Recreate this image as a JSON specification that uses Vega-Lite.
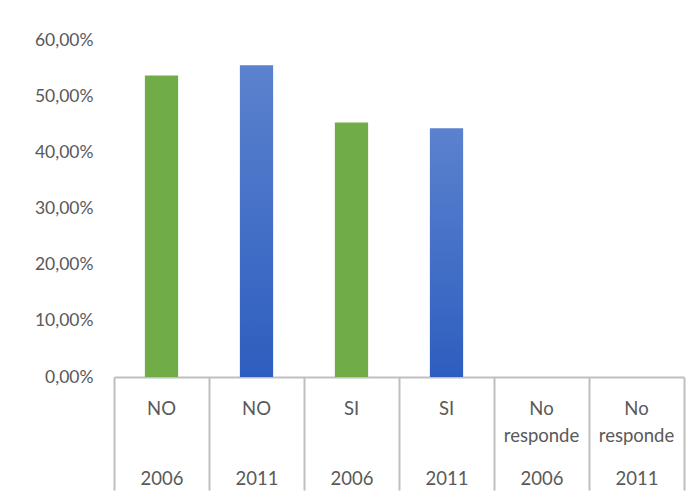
{
  "$schema": "https://vega.github.io/schema/vega-lite/v6.json",
  "width": 570,
  "height": 337,
  "autosize": {"type": "none"},
  "padding": {"left": 114, "top": 40, "right": 15, "bottom": 118},
  "background": "#ffffff",
  "config": {
    "view": {"stroke": null},
    "font": "Lato",
    "locale": {"number": {"decimal": ",", "thousands": ".", "grouping": [3], "currency": ["", " €"]}}
  },
  "data": {
    "values": [
      {"clave": "NO|2006", "respuesta": "NO", "anio": "2006", "valor": 0.537},
      {"clave": "NO|2011", "respuesta": "NO", "anio": "2011", "valor": 0.555},
      {"clave": "SI|2006", "respuesta": "SI", "anio": "2006", "valor": 0.453},
      {"clave": "SI|2011", "respuesta": "SI", "anio": "2011", "valor": 0.443},
      {"clave": "No responde|2006", "respuesta": "No responde", "anio": "2006", "valor": 0},
      {"clave": "No responde|2011", "respuesta": "No responde", "anio": "2011", "valor": 0}
    ]
  },
  "resolve": {"axis": {"x": "independent"}},
  "layer": [
    {
      "mark": {"type": "bar", "width": {"band": 0.35}},
      "encoding": {
        "x": {
          "field": "clave",
          "type": "nominal",
          "sort": null,
          "scale": {"paddingInner": 0, "paddingOuter": 0},
          "axis": {
            "orient": "bottom",
            "title": null,
            "labelAngle": 0,
            "labelExpr": "split(split(datum.value, '|')[0], ' ')",
            "labelFont": "Lato",
            "labelFontSize": 18.5,
            "labelColor": "#595959",
            "labelBaseline": "top",
            "labelLineHeight": 27,
            "labelPadding": 22,
            "ticks": false,
            "domain": true,
            "domainColor": "#bfbfbf",
            "domainWidth": 2,
            "grid": false
          }
        },
        "y": {
          "field": "valor",
          "type": "quantitative",
          "scale": {"domain": [0, 0.6], "nice": false},
          "axis": {
            "title": null,
            "format": ".2%",
            "values": [0, 0.1, 0.2, 0.3, 0.4, 0.5, 0.6],
            "labelFont": "Lato",
            "labelFontSize": 17.5,
            "labelColor": "#595959",
            "labelPadding": 21,
            "ticks": false,
            "domain": false,
            "grid": false
          }
        },
        "color": {
          "condition": {"test": "datum.anio == '2006'", "value": "#70ad47"},
          "value": {
            "gradient": "linear",
            "x1": 0, "y1": 0, "x2": 0, "y2": 1,
            "stops": [
              {"offset": 0, "color": "#5b82ce"},
              {"offset": 1, "color": "#2d5ebf"}
            ]
          }
        }
      }
    },
    {
      "mark": {"type": "bar", "opacity": 0, "width": {"band": 0.35}},
      "encoding": {
        "x": {
          "field": "clave",
          "type": "nominal",
          "sort": null,
          "axis": {
            "orient": "bottom",
            "title": null,
            "labelAngle": 0,
            "labelExpr": "split(datum.value, '|')[1]",
            "labelFont": "Lato",
            "labelFontSize": 18.5,
            "labelColor": "#595959",
            "labelBaseline": "top",
            "labelPadding": -21,
            "ticks": true,
            "tickBand": "extent",
            "tickSize": 113,
            "tickColor": "#bfbfbf",
            "tickWidth": 2,
            "domain": false,
            "grid": false
          }
        },
        "y": {"field": "valor", "type": "quantitative"}
      }
    }
  ]
}
